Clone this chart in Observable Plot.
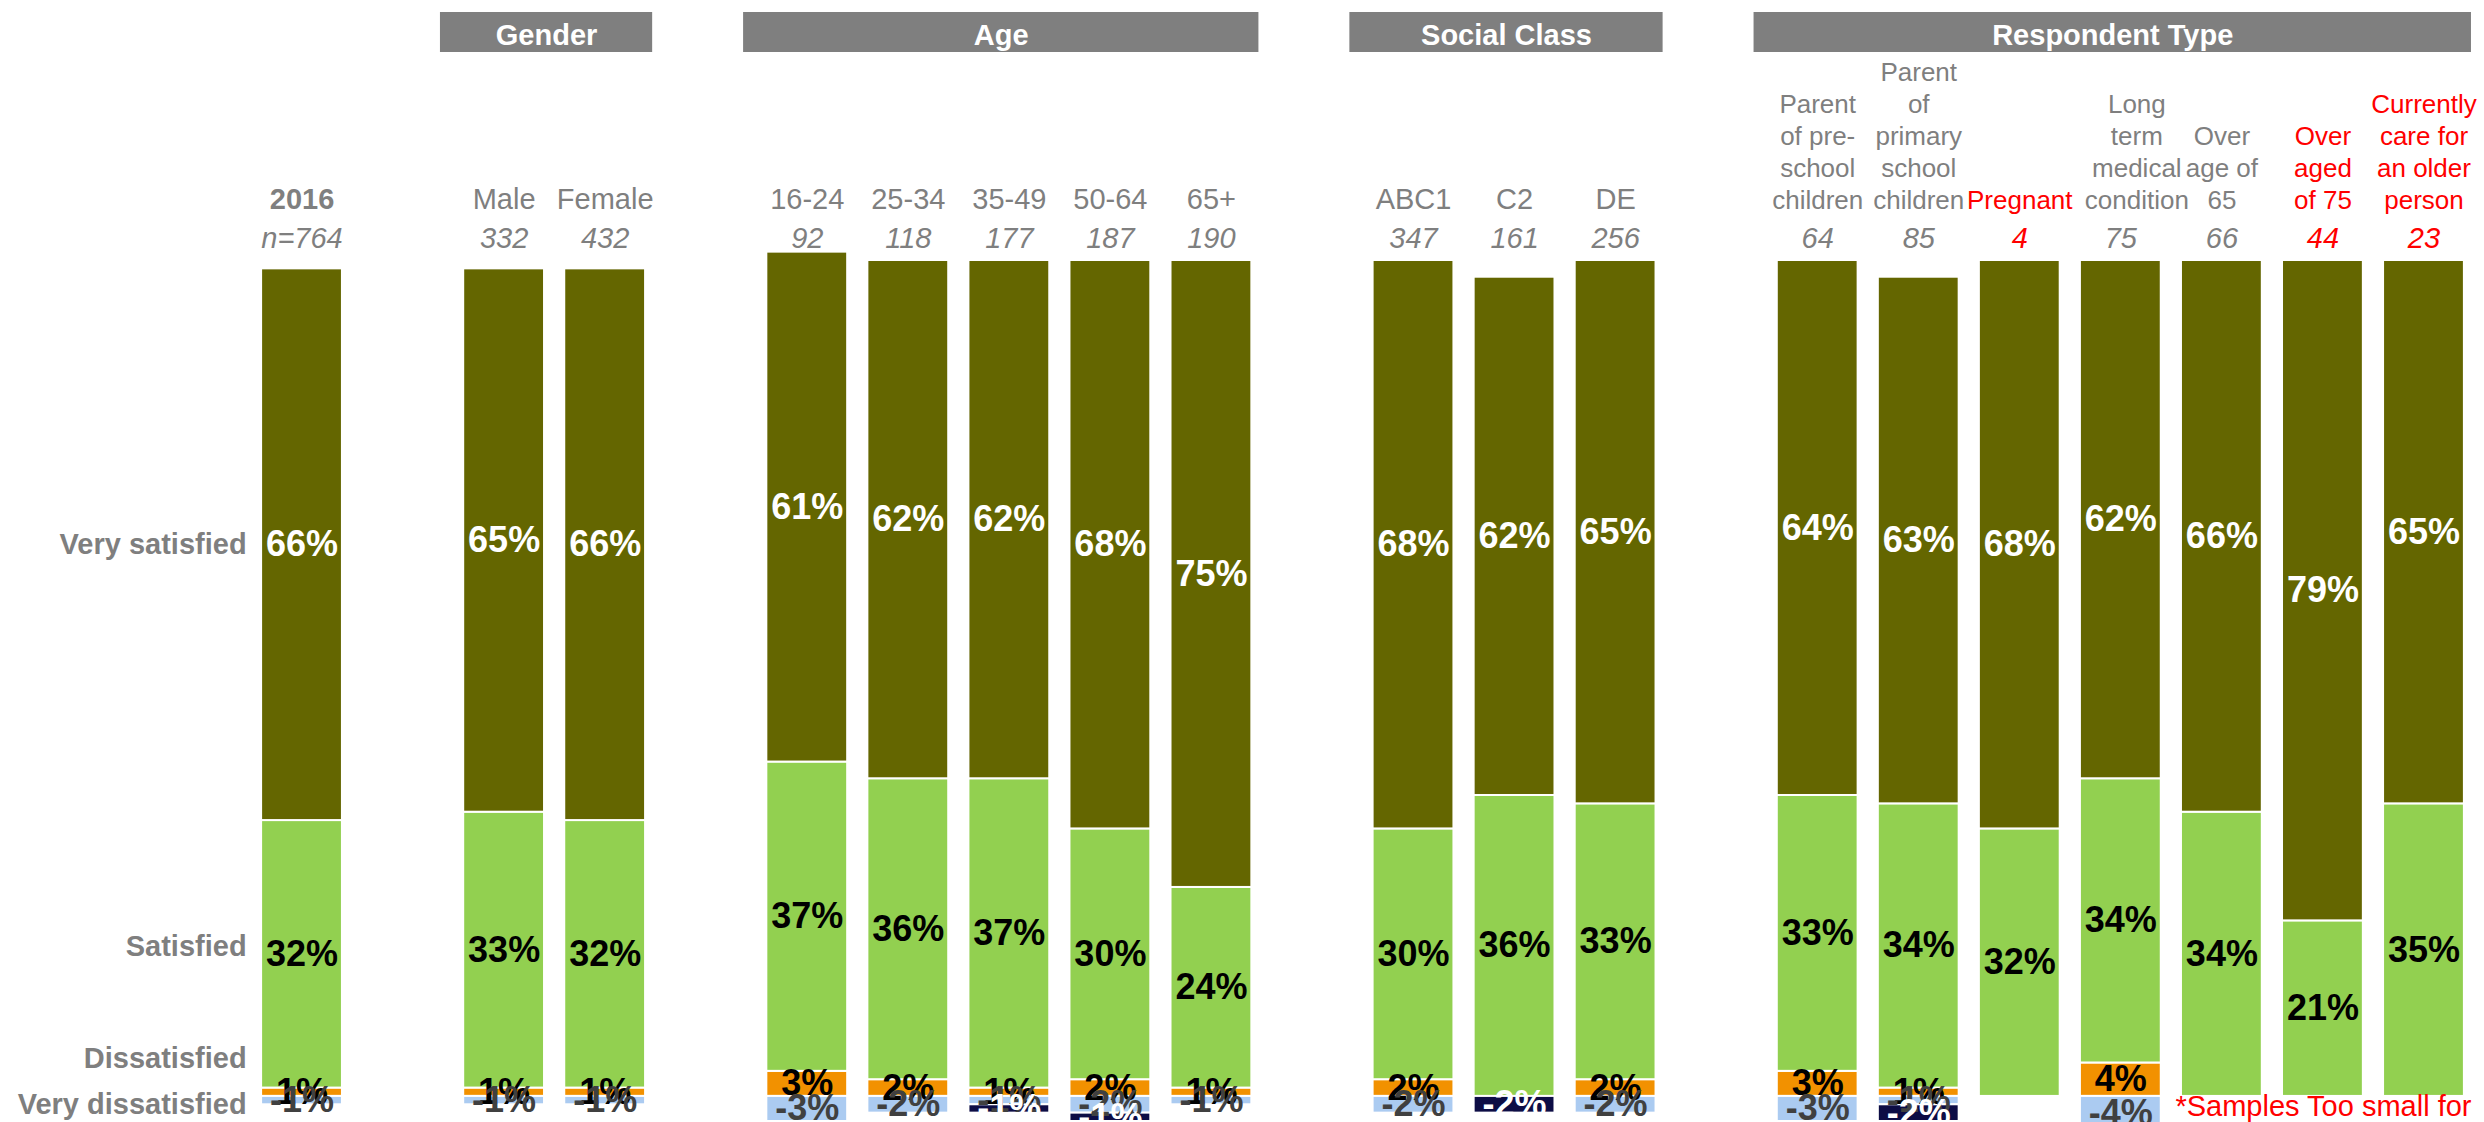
<!DOCTYPE html>
<html>
<head>
<meta charset="utf-8">
<script src="https://cdn.jsdelivr.net/npm/d3@7"></script>
<script src="https://cdn.jsdelivr.net/npm/@observablehq/plot@0.6"></script>
<style>
  html, body { margin: 0; padding: 0; background: #ffffff; }
  #chart svg { display: block; }
</style>
</head>
<body>
<div id="chart"></div>
<script>
// ---------------- DATA ----------------
const categories = ["2016", "Male", "Female", "16-24", "25-34", "35-49", "50-64", "65+",
  "ABC1", "C2", "DE",
  "Parent of pre-school children", "Parent of primary school children", "Pregnant",
  "Long term medical condition", "Over age of 65", "Over aged of 75", "Currently care for an older person"];
const categoryLabels = ["2016", "Male", "Female", "16-24", "25-34", "35-49", "50-64", "65+",
  "ABC1", "C2", "DE",
  "Parent\nof pre-\nschool\nchildren", "Parent\nof\nprimary\nschool\nchildren", "Pregnant",
  "Long\nterm\nmedical\ncondition", "Over\nage of\n65", "Over\naged\nof 75", "Currently\ncare for\nan older\nperson"];
const sampleSizes = ["n=764", "332", "432", "92", "118", "177", "187", "190",
  "347", "161", "256", "64", "85", "4", "75", "66", "44", "23"];
const categoryGroups = ["Total", "Gender", "Gender", "Age", "Age", "Age", "Age", "Age",
  "Social Class", "Social Class", "Social Class",
  "Respondent Type", "Respondent Type", "Respondent Type", "Respondent Type",
  "Respondent Type", "Respondent Type", "Respondent Type"];
const tooSmallSamples = ["Pregnant", "Over aged of 75", "Currently care for an older person"];

const verySatisfied    = [66, 65, 66, 61, 62, 62, 68, 75, 68, 62, 65, 64, 63, 68, 62, 66, 79, 65];
const satisfied        = [32, 33, 32, 37, 36, 37, 30, 24, 30, 36, 33, 33, 34, 32, 34, 34, 21, 35];
const dissatisfied     = [ 1,  1,  1,  3,  2,  1,  2,  1,  2,  0,  2,  3,  1,  0,  4,  0,  0,  0];
const veryDissatisfied = [-1, -1, -1, -3, -2, -1, -2, -1, -2,  0, -2, -3, -1,  0, -4,  0,  0,  0];
const otherNegative    = [ 0,  0,  0,  0,  0, -1, -1,  0,  0, -2,  0,  0, -2,  0,  0,  0,  0,  0];

const seriesNames  = ["Dissatisfied", "Satisfied", "Very satisfied", "Very dissatisfied", "Other"];
const seriesValues = [dissatisfied, satisfied, verySatisfied, veryDissatisfied, otherNegative];
const axisLabels   = ["Very satisfied", "Satisfied", "Dissatisfied", "Very dissatisfied"];
const footnote = "*Samples Too small for";

// ---------------- STYLE ----------------
const seriesColors = ["#f29100", "#92d050", "#646600", "#abcbf1", "#0d0d45"];
const labelColors  = ["#000000", "#000000", "#ffffff", "#404040", "#ffffff"];
const axisLabelDy  = {"Very satisfied": 0, "Satisfied": -8, "Dissatisfied": -34, "Very dissatisfied": 4};
const labelShift   = {"Long term medical condition": 16};
const FONT = '"Liberation Sans", Arial, Helvetica, sans-serif';
const GRAY = "#7f7f7f";
const RED = "#ff0000";
const W = 2484;
const ML = 251, MR = 10;

// ---------------- LAYOUT (slot per category, empty slot between groups) ----------------
const slots = [];
{
  let s = 0, prev = null;
  categoryGroups.forEach(g => {
    if (prev !== null && g !== prev) s += 1;
    slots.push(s);
    s += 1;
    prev = g;
  });
  slots.total = s;
}
const nSlots = slots.total;

const cats = categories.map((c, i) => ({
  name: c, label: categoryLabels[i], n: sampleSizes[i], group: categoryGroups[i],
  slot: slots[i], red: tooSmallSamples.includes(c), small: categoryGroups[i] === "Respondent Type"
}));

// stacked rows
const rows = [];
cats.forEach((c, i) => {
  let pos = 0, neg = 0;
  seriesNames.forEach((sName, k) => {
    const v = seriesValues[k][i];
    let y1, y2;
    if (v >= 0) { y1 = pos; y2 = pos + v; pos = y2; }
    else { y1 = neg; y2 = neg + v; neg = y2; }
    rows.push({cat: c.name, slot: c.slot, series: sName, k, value: v, y1, y2, mid: (y1 + y2) / 2});
  });
});

// group headers
const groupData = [];
d3.groups(cats.filter(c => c.group !== "Total"), c => c.group).forEach(([g, members]) => {
  const first = d3.min(members, m => m.slot), last = d3.max(members, m => m.slot);
  groupData.push({name: g, x1: first - 0.13, x2: last + 0.97});
});

// ---------------- HEADER PLOT ----------------
const header = Plot.plot({
  width: W, height: 52,
  marginLeft: ML, marginRight: MR, marginTop: 12, marginBottom: 0,
  x: {domain: [0, nSlots], axis: null},
  style: {fontFamily: FONT, background: "transparent", overflow: "visible"},
  marks: [
    Plot.barX(groupData, {x1: "x1", x2: "x2", fill: GRAY}),
    Plot.text(groupData, {x: d => (d.x1 + d.x2) / 2, text: "name", frameAnchor: "middle",
      fill: "#ffffff", fontWeight: "bold", fontSize: 29, dy: 3})
  ]
});

// ---------------- MAIN PLOT ----------------
const first = rows.filter(r => r.cat === categories[0]);
const axisLabelMarks = axisLabels.map(lbl => Plot.text(first.filter(r => r.series === lbl), {
  x: d => d.slot + 0.1, y: "mid", text: "series", textAnchor: "end", dx: -15, dy: axisLabelDy[lbl],
  fill: GRAY, fontWeight: "bold", fontSize: 29
}));

const valueLabelMarks = [2, 1, 0, 3, 4].map(k => Plot.text(rows.filter(r => r.k === k && r.value !== 0), {
  x: d => d.slot + 0.5, y: "mid", text: d => d.value + "%",
  fill: labelColors[k], fontWeight: "bold", fontSize: 36
}));

const labelOpts = {x: d => d.slot + 0.5, text: "label", frameAnchor: "top", lineAnchor: "bottom", dy: -52};
const smallPlain = cats.filter(c => c.small && !c.red && !(c.name in labelShift));
const smallShifted = cats.filter(c => c.small && !c.red && (c.name in labelShift));

const main = Plot.plot({
  width: W, height: 1070,
  marginLeft: ML, marginRight: MR, marginTop: 208, marginBottom: 1,
  x: {domain: [0, nSlots], axis: null},
  y: {domain: [-3, 100], axis: null},
  color: {domain: seriesNames, range: seriesColors},
  style: {fontFamily: FONT, background: "transparent", overflow: "visible"},
  marks: [
    Plot.rect(rows.filter(r => r.value !== 0), {
      x1: d => d.slot + 0.1, x2: d => d.slot + 0.9, y1: "y1", y2: "y2",
      fill: "series", stroke: "#ffffff", strokeWidth: 2
    }),
    ...valueLabelMarks,
    ...axisLabelMarks,
    // category names
    Plot.text(cats.filter(c => c.group === "Total"), {...labelOpts, fill: GRAY, fontWeight: "bold", fontSize: 29}),
    Plot.text(cats.filter(c => c.group !== "Total" && !c.small), {...labelOpts, fill: GRAY, fontSize: 29}),
    Plot.text(smallPlain, {...labelOpts, fill: GRAY, fontSize: 26, lineHeight: 1.23}),
    ...smallShifted.map(c => Plot.text([c], {...labelOpts, dx: labelShift[c.name], fill: GRAY, fontSize: 26, lineHeight: 1.23})),
    Plot.text(cats.filter(c => c.small && c.red), {...labelOpts, fill: RED, fontSize: 26, lineHeight: 1.23}),
    // sample sizes
    Plot.text(cats.filter(c => !c.red), {x: d => d.slot + 0.5, text: "n",
      frameAnchor: "top", lineAnchor: "bottom", dy: -13, fill: GRAY, fontStyle: "italic", fontSize: 29}),
    Plot.text(cats.filter(c => c.red), {x: d => d.slot + 0.5, text: "n",
      frameAnchor: "top", lineAnchor: "bottom", dy: -13, fill: RED, fontStyle: "italic", fontSize: 29}),
    // footnote
    Plot.text([footnote], {text: d => d, frameAnchor: "bottom-right", textAnchor: "end", lineAnchor: "bottom",
      dx: -3, dy: -6, fill: RED, fontSize: 29})
  ]
});

const chart = document.getElementById("chart");
chart.appendChild(header);
chart.appendChild(main);
</script>
</body>
</html>
